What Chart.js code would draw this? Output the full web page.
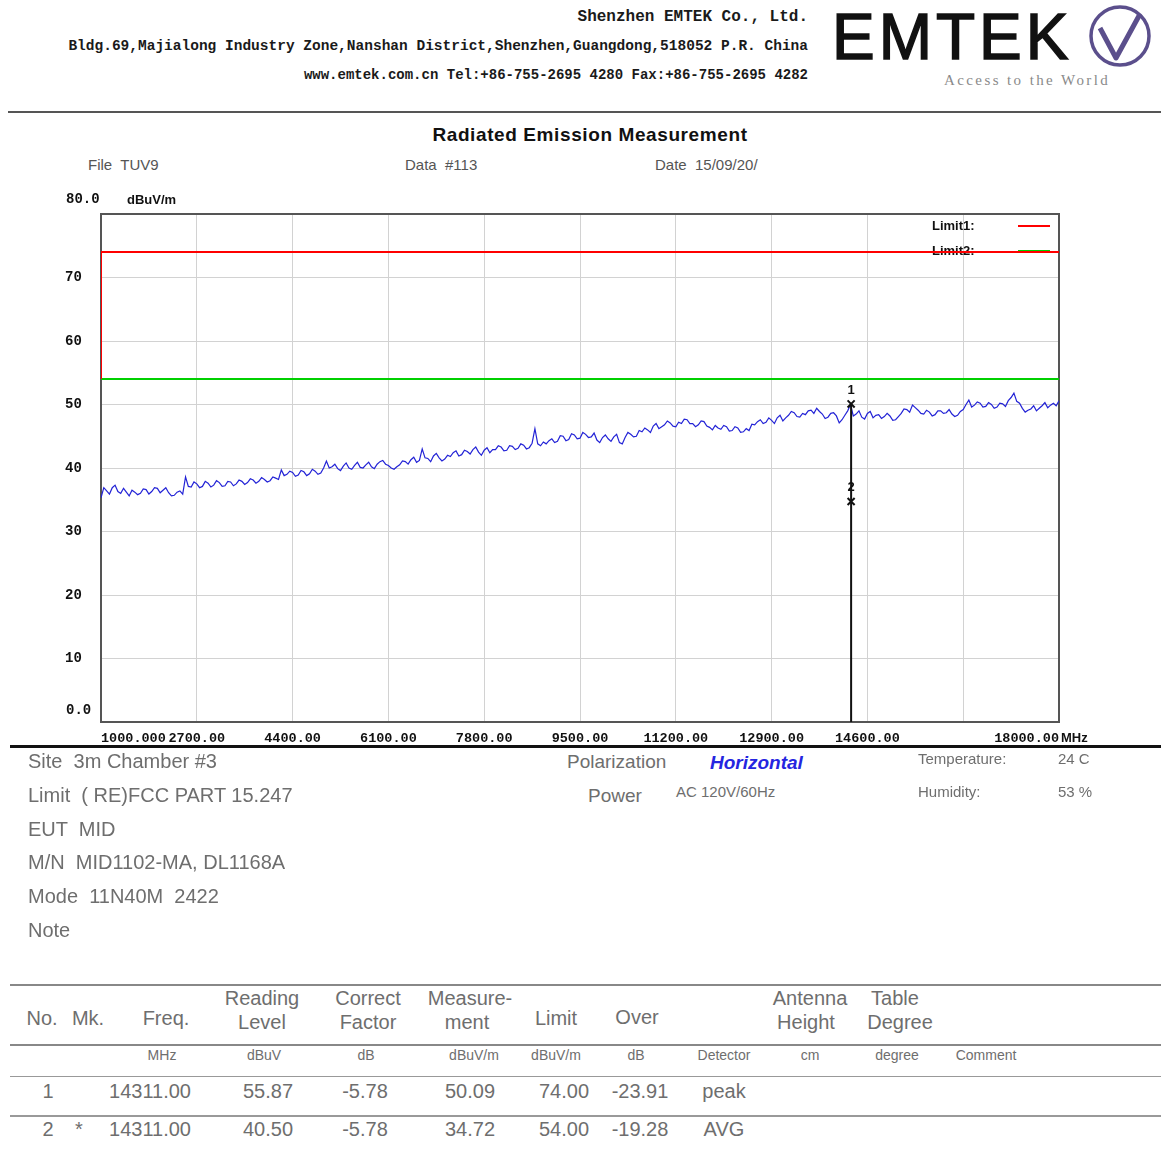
<!DOCTYPE html>
<html lang="en">
<head>
<meta charset="UTF-8">
<title>Radiated Emission Measurement</title>
<script src="https://cdn.jsdelivr.net/npm/chart.js"></script>
<style>
    body { margin: 0; background: #fff; }
    #page { position: relative; width: 1161px; height: 1149px; overflow: hidden; font-family: "Liberation Sans", Arial, sans-serif; }
    .t { position: absolute; white-space: pre; line-height: 1; }
    .rule { position: absolute; left: 10px; right: 0; }
    #plot { position: absolute; left: 0; top: 190px; }
</style>
</head>
<body>
<div id="page">
    <!-- logo -->
    <svg style="position:absolute;left:1086px;top:2px" width="72" height="70">
        <circle cx="34" cy="34" r="29" fill="none" stroke="#5b4f8c" stroke-width="3.5"/>
        <path d="M14 26 L30 56 L54 12" fill="none" stroke="#5b4f8c" stroke-width="5" stroke-linejoin="round"/>
    </svg>
    <div class="rule" style="top:111px;height:2px;background:#555;left:8px"></div>
    <canvas id="plot" width="1161" height="560"></canvas>
    <div class="rule" style="top:745px;height:3px;background:#111"></div>
    <div class="rule" style="top:984px;height:2px;background:#888"></div>
    <div class="rule" style="top:1044px;height:2px;background:#888"></div>
    <div class="rule" style="top:1076px;height:1px;background:#999"></div>
    <div class="rule" style="top:1115px;height:2px;background:#999"></div>
</div>

<script>
// sweep, 1000 - 18000 MHz
const traceFreq = [
    1000, 1050, 1100, 1150, 1200, 1250, 1300, 1350, 1400, 1450, 1500, 1550, 1600, 1650, 1700, 1750, 1800, 1850, 1900, 1950,
    2000, 2050, 2100, 2150, 2200, 2250, 2300, 2350, 2400, 2450, 2500, 2550, 2600, 2650, 2700, 2750, 2800, 2850, 2900, 2950,
    3000, 3050, 3100, 3150, 3200, 3250, 3300, 3350, 3400, 3450, 3500, 3550, 3600, 3650, 3700, 3750, 3800, 3850, 3900, 3950,
    4000, 4050, 4100, 4150, 4200, 4250, 4300, 4350, 4400, 4450, 4500, 4550, 4600, 4650, 4700, 4750, 4800, 4850, 4900, 4950,
    5000, 5050, 5100, 5150, 5200, 5250, 5300, 5350, 5400, 5450, 5500, 5550, 5600, 5650, 5700, 5750, 5800, 5850, 5900, 5950,
    6000, 6050, 6100, 6150, 6200, 6250, 6300, 6350, 6400, 6450, 6500, 6550, 6600, 6650, 6700, 6750, 6800, 6850, 6900, 6950,
    7000, 7050, 7100, 7150, 7200, 7250, 7300, 7350, 7400, 7450, 7500, 7550, 7600, 7650, 7700, 7750, 7800, 7850, 7900, 7950,
    8000, 8050, 8100, 8150, 8200, 8250, 8300, 8350, 8400, 8450, 8500, 8550, 8600, 8650, 8700, 8750, 8800, 8850, 8900, 8950,
    9000, 9050, 9100, 9150, 9200, 9250, 9300, 9350, 9400, 9450, 9500, 9550, 9600, 9650, 9700, 9750, 9800, 9850, 9900, 9950,
    10000, 10050, 10100, 10150, 10200, 10250, 10300, 10350, 10400, 10450, 10500, 10550, 10600, 10650, 10700, 10750, 10800, 10850, 10900, 10950,
    11000, 11050, 11100, 11150, 11200, 11250, 11300, 11350, 11400, 11450, 11500, 11550, 11600, 11650, 11700, 11750, 11800, 11850, 11900, 11950,
    12000, 12050, 12100, 12150, 12200, 12250, 12300, 12350, 12400, 12450, 12500, 12550, 12600, 12650, 12700, 12750, 12800, 12850, 12900, 12950,
    13000, 13050, 13100, 13150, 13200, 13250, 13300, 13350, 13400, 13450, 13500, 13550, 13600, 13650, 13700, 13750, 13800, 13850, 13900, 13950,
    14000, 14050, 14100, 14150, 14200, 14250, 14300, 14350, 14400, 14450, 14500, 14550, 14600, 14650, 14700, 14750, 14800, 14850, 14900, 14950,
    15000, 15050, 15100, 15150, 15200, 15250, 15300, 15350, 15400, 15450, 15500, 15550, 15600, 15650, 15700, 15750, 15800, 15850, 15900, 15950,
    16000, 16050, 16100, 16150, 16200, 16250, 16300, 16350, 16400, 16450, 16500, 16550, 16600, 16650, 16700, 16750, 16800, 16850, 16900, 16950,
    17000, 17050, 17100, 17150, 17200, 17250, 17300, 17350, 17400, 17450, 17500, 17550, 17600, 17650, 17700, 17750, 17800, 17850, 17900, 17950,
    18000
];
const traceLevel = [
    35.3, 36.9, 36.4, 35.9, 36.9, 37.3, 36.3, 36.0, 36.8, 36.2, 35.6, 36.5, 36.2, 35.8, 36.0, 36.7, 36.6, 35.9, 36.3, 36.9,
    36.8, 36.1, 36.5, 36.9, 36.1, 35.6, 35.7, 36.2, 36.4, 35.9, 38.6, 37.1, 37.0, 37.8, 37.5, 36.9, 37.1, 37.9, 37.6, 37.0,
    37.3, 38.0, 37.7, 37.1, 37.2, 37.9, 37.8, 37.2, 37.5, 38.1, 37.9, 37.4, 37.7, 38.3, 38.1, 37.6, 37.9, 38.5, 38.2, 37.8,
    38.0, 38.6, 38.4, 38.2, 39.7, 38.8, 39.0, 39.5, 39.3, 38.7, 38.9, 39.6, 39.4, 38.8, 39.1, 39.8, 39.5, 39.0, 39.2, 40.0,
    41.1, 40.0, 40.2, 40.6, 39.9, 39.6, 40.3, 40.8, 40.0, 39.8, 40.4, 40.9, 40.1, 40.0, 40.5, 40.9, 40.2, 39.9, 40.6, 41.0,
    41.2, 40.6, 40.4, 40.0, 39.8, 40.2, 40.5, 41.1, 41.0, 40.6, 41.3, 41.7, 40.9, 41.2, 43.0, 41.6, 41.5, 41.0, 41.9, 42.3,
    41.6, 41.1, 41.4, 42.0, 41.8, 42.4, 42.7, 41.9, 42.1, 42.8, 42.6, 42.2, 42.9, 43.3, 42.5, 42.0, 42.8, 43.2, 42.4, 42.9,
    42.9, 43.5, 43.3, 42.7, 42.8, 43.5, 43.4, 42.9, 43.1, 43.8, 43.6, 43.0, 43.2, 43.9, 46.2, 43.8, 43.5, 44.1, 43.8, 44.3,
    44.6, 44.0, 44.2, 45.1, 45.0, 44.3, 44.5, 45.4, 45.2, 44.6, 44.7, 45.6, 45.3, 44.8, 44.9, 45.5, 44.4, 44.0, 44.8, 45.2,
    44.6, 44.2, 44.9, 45.3, 44.0, 43.8, 44.8, 45.6, 45.3, 44.9, 45.0, 45.9, 45.7, 46.3, 46.0, 45.6, 46.6, 47.0, 46.2, 46.5,
    46.8, 47.4, 47.1, 46.6, 46.5, 47.2, 47.0, 47.7, 47.6, 47.0, 47.0, 46.5, 46.8, 47.4, 47.3, 46.6, 46.4, 46.0, 46.7, 46.3,
    46.1, 46.7, 46.5, 45.8, 45.9, 46.5, 46.3, 45.6, 45.7, 46.2, 45.9, 46.9, 46.8, 47.3, 47.6, 47.0, 47.2, 47.9, 47.5, 47.0,
    47.9, 48.3, 47.4, 47.9, 48.3, 48.9, 48.7, 48.1, 48.0, 48.6, 48.4, 49.0, 49.1, 48.6, 49.4, 48.9, 48.5, 47.8, 48.0, 48.6,
    48.7, 48.2, 47.1, 47.6, 48.3, 49.0, 50.0, 48.2, 48.5, 49.0, 48.0, 47.7, 48.6, 48.9, 47.9, 48.3, 48.4, 47.8, 48.1, 48.6,
    48.2, 47.5, 47.6, 48.1, 48.6, 49.3, 49.2, 48.8, 49.9, 49.5, 49.1, 48.6, 48.5, 49.1, 48.8, 48.2, 48.4, 49.0, 49.0, 48.6,
    48.7, 49.2, 48.5, 48.1, 48.3, 48.9, 49.2, 50.0, 50.7, 49.6, 49.9, 50.4, 50.2, 49.6, 49.7, 50.3, 50.0, 49.4, 49.6, 50.2,
    50.1, 49.7, 50.6, 51.1, 51.8, 50.5, 50.2, 49.4, 48.8, 49.1, 49.3, 49.8, 49.0, 49.4, 49.8, 50.3, 49.5, 49.9, 50.2, 49.8,
    50.6
];

// limits (dBuV/m)
const limit1Freq = [1000, 1000, 18000];
const limit1Level = [54, 74, 74];
const limit2Freq = [1000, 18000];
const limit2Level = [54, 54];

// axes
const xTickValues = [1000, 2700, 4400, 6100, 7800, 9500, 11200, 12900, 14600, 16300, 18000];
const xTickLabels = ['1000.000', '2700.00', '4400.00', '6100.00', '7800.00', '9500.00', '11200.00', '12900.00', '14600.00', '', '18000.00'];
const yTickValues = [0, 10, 20, 30, 40, 50, 60, 70, 80];
const yTickLabels = ['', '10', '20', '30', '40', '50', '60', '70', ''];

// result table / markers
const rowNo = ['1', '2'];
const rowMk = ['', '*'];
const rowFreq = [14311.00, 14311.00];
const rowReading = [55.87, 40.50];
const rowFactor = [-5.78, -5.78];
const rowMeasure = [50.09, 34.72];
const rowLimit = [74.00, 54.00];
const rowOver = [-23.91, -19.28];
const rowDetector = ['peak', 'AVG'];

const page = document.getElementById('page');
function put(txt, x, cy, fs, css, align) {
    const s = document.createElement('span');
    s.className = 't';
    s.textContent = txt;
    s.style.cssText = `font-size:${fs}px;top:${cy - fs / 2}px;` + (css || '');
    if (align === 'r') s.style.right = (1161 - x) + 'px';
    else if (align === 'c') { s.style.left = x + 'px'; s.style.transform = 'translateX(-50%)'; }
    else s.style.left = x + 'px';
    page.appendChild(s);
}

const hdr = 'font-family:"Liberation Mono",monospace;font-weight:bold;color:#1a1a1a;';
put('Shenzhen EMTEK Co., Ltd.', 808, 17, 16, hdr, 'r');
put('Bldg.69,Majialong Industry Zone,Nanshan District,Shenzhen,Guangdong,518052 P.R. China', 808, 46, 14.5, hdr, 'r');
put('www.emtek.com.cn Tel:+86-755-2695 4280 Fax:+86-755-2695 4282', 808, 75, 14, hdr, 'r');
put('EMTEK', 832, 37, 64, 'letter-spacing:4px;color:#111;-webkit-text-stroke:1.5px #111;');
put('Access to the World', 944, 80, 15, 'font-family:"Liberation Serif",serif;letter-spacing:2.4px;color:#8a8a8a;');

put('Radiated Emission Measurement', 590, 134, 19, 'font-weight:bold;letter-spacing:0.6px;color:#111;', 'c');
const sub = 'color:#555;';
put('File  TUV9', 88, 164, 15, sub);
put('Data  #113', 405, 164, 15, sub);
put('Date  15/09/20/', 655, 164, 15, sub);

const axisFont = 'font-family:"Liberation Mono",monospace;font-weight:bold;color:#111;';
put('80.0', 66, 199, 14, axisFont);
put('dBuV/m', 127, 199, 13, 'font-weight:bold;color:#111;');
put('0.0', 66, 710, 14, axisFont);
put('MHz', 1061, 737, 13, 'font-weight:bold;color:#111;');

const info = 'color:#6e6e6e;';
put('Site  3m Chamber #3', 28, 761, 20, info);
put('Limit  ( RE)FCC PART 15.247', 28, 795, 20, info);
put('EUT  MID', 28, 829, 20, info);
put('M/N  MID1102-MA, DL1168A', 28, 862, 20, info);
put('Mode  11N40M  2422', 28, 896, 20, info);
put('Note', 28, 930, 20, info);
put('Polarization', 567, 761, 19, info);
put('Horizontal', 710, 762, 19, 'font-weight:bold;font-style:italic;color:#2525e0;');
put('Power', 588, 795, 19, info);
put('AC 120V/60Hz', 676, 791, 15, info);
put('Temperature:', 918, 758, 15, info);
put('24 C', 1058, 758, 15, info);
put('Humidity:', 918, 791, 15, info);
put('53 %', 1058, 791, 15, info);

// table header
[['Reading', 262, 998], ['Level', 262, 1022], ['Correct', 368, 998], ['Factor', 368, 1022],
 ['Measure-', 470, 998], ['ment', 467, 1022], ['Antenna', 810, 998], ['Height', 806, 1022],
 ['Table', 895, 998], ['Degree', 900, 1022], ['No.', 42, 1018], ['Mk.', 88, 1018],
 ['Freq.', 166, 1018], ['Limit', 556, 1018], ['Over', 637, 1017]
].forEach(h => put(h[0], h[1], h[2], 20, info, 'c'));
[['MHz', 162], ['dBuV', 264], ['dB', 366], ['dBuV/m', 474], ['dBuV/m', 556], ['dB', 636],
 ['Detector', 724], ['cm', 810], ['degree', 897], ['Comment', 986]
].forEach(u => put(u[0], u[1], 1055, 14, info, 'c'));

const rowY = [1091, 1129];
rowNo.forEach((n, i) => {
    const y = rowY[i];
    put(n, 48, y, 20, info, 'c');
    if (rowMk[i]) put(rowMk[i], 79, y, 20, info, 'c');
    put(rowFreq[i].toFixed(2), 150, y, 20, info, 'c');
    put(rowReading[i].toFixed(2), 268, y, 20, info, 'c');
    put(rowFactor[i].toFixed(2), 365, y, 20, info, 'c');
    put(rowMeasure[i].toFixed(2), 470, y, 20, info, 'c');
    put(rowLimit[i].toFixed(2), 564, y, 20, info, 'c');
    put(rowOver[i].toFixed(2), 640, y, 20, info, 'c');
    put(rowDetector[i], 724, y, 20, info, 'c');
});

// frame, in-plot legend and marker numbers
const docPlugin = {
    id: 'doc',
    beforeDatasetsDraw(chart) {
        const { ctx, chartArea: a } = chart;
        ctx.save();
        ctx.strokeStyle = '#555';
        ctx.lineWidth = 2;
        ctx.strokeRect(a.left, a.top, a.right - a.left, a.bottom - a.top);
        ctx.font = 'bold 13px "Liberation Sans"';
        ctx.textBaseline = 'middle';
        [0, 1].forEach(i => {
            const ds = chart.data.datasets[i];
            const y = a.top + 12 + i * 25;
            ctx.fillStyle = '#111';
            ctx.fillText(ds.label + ':', a.right - 127, y);
            ctx.strokeStyle = ds.borderColor;
            ctx.lineWidth = 2;
            ctx.beginPath();
            ctx.moveTo(a.right - 41, y);
            ctx.lineTo(a.right - 9, y);
            ctx.stroke();
        });
        ctx.restore();
    },
    afterDatasetsDraw(chart) {
        const { ctx } = chart;
        const meta = chart.getDatasetMeta(4);
        ctx.save();
        ctx.font = 'bold 13px "Liberation Sans"';
        ctx.fillStyle = '#111';
        ctx.textAlign = 'center';
        ctx.textBaseline = 'middle';
        meta.data.forEach((pt, i) => ctx.fillText(rowNo[i], pt.x, pt.y - 14));
        ctx.restore();
    }
};

const pts = (xs, ys) => xs.map((x, i) => ({ x: x, y: ys[i] }));

new Chart(document.getElementById('plot'), {
    type: 'line',
    data: {
        datasets: [
            { label: 'Limit1', data: pts(limit1Freq, limit1Level), borderColor: '#ff0000', borderWidth: 2, pointRadius: 0, order: 1 },
            { label: 'Limit2', data: pts(limit2Freq, limit2Level), borderColor: '#00d000', borderWidth: 2, pointRadius: 0, order: 2 },
            { label: 'Trace', data: pts(traceFreq, traceLevel), borderColor: '#2323d6', borderWidth: 1.2, pointRadius: 0, tension: 0, order: 5 },
            { label: 'Marker line', data: [{ x: rowFreq[0], y: rowMeasure[0] }, { x: rowFreq[0], y: 0 }], borderColor: '#111', borderWidth: 2, pointRadius: 0, order: 4 },
            { label: 'Markers', data: pts(rowFreq, rowMeasure), showLine: false, pointStyle: 'crossRot', pointRadius: 5, borderColor: '#111', borderWidth: 2, order: 3 }
        ]
    },
    options: {
        responsive: false,
        animation: false,
        devicePixelRatio: 1,
        layout: { padding: { left: 65, right: 102, top: 24, bottom: 0 } },
        plugins: { legend: { display: false }, tooltip: { enabled: false } },
        scales: {
            x: {
                type: 'linear', min: 1000, max: 18000,
                afterBuildTicks: s => { s.ticks = xTickValues.map(v => ({ value: v })); },
                afterFit: s => { s.height = 28; },
                grid: { color: '#d2d2d2', lineWidth: 1, drawTicks: false },
                border: { display: false },
                ticks: {
                    autoSkip: false, maxRotation: 0, align: 'inner', padding: 8,
                    color: '#111', font: { family: 'Liberation Mono', weight: 'bold', size: 13.5 },
                    callback: (v, i) => xTickLabels[i]
                }
            },
            y: {
                min: 0, max: 80,
                afterBuildTicks: s => { s.ticks = yTickValues.map(v => ({ value: v })); },
                afterFit: s => { s.width = 36; },
                grid: { color: '#d2d2d2', lineWidth: 1, drawTicks: false },
                border: { display: false },
                ticks: {
                    crossAlign: 'far', padding: 0,
                    color: '#111', font: { family: 'Liberation Mono', weight: 'bold', size: 14 },
                    callback: (v, i) => yTickLabels[i]
                }
            }
        }
    },
    plugins: [docPlugin]
});
</script>
</body>
</html>
